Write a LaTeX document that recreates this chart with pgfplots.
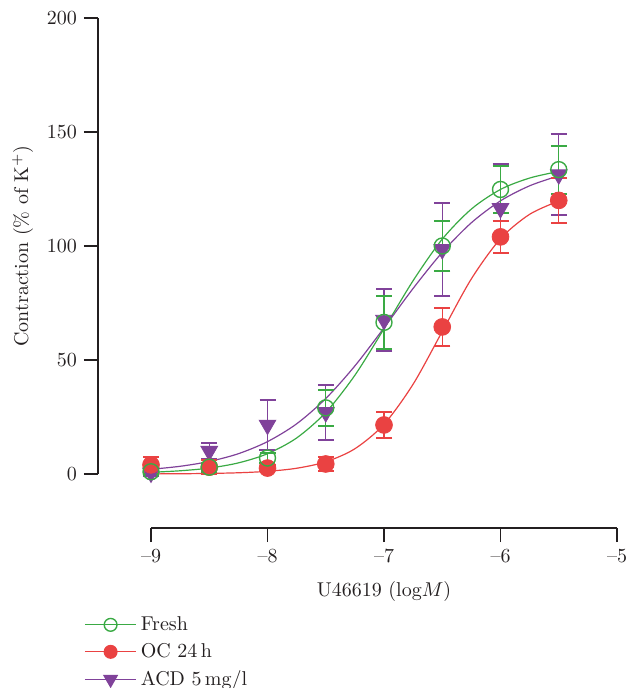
\documentclass[border=0pt]{standalone}
\usepackage{pgfplots}
\pgfplotsset{compat=1.18}
\usepackage{pgfplotstable}

\definecolor{cgreen}{RGB}{58,170,68}
\definecolor{cred}{RGB}{234,66,66}
\definecolor{cpurple}{RGB}{128,66,154}
\definecolor{ctext}{RGB}{35,31,32}

% mean and SEM
\pgfplotstableread{
x     y     e
-9    1     1
-8.5  3     2
-8    7     2
-7.5  29    8
-7    66.5  11.5
-6.5  100   11
-6    124.8 10.3
-5.5  133.5 10.5
}\fresh
\pgfplotstableread{
x     y     e
-9    4     3.5
-8.5  3     3
-8    2.6   1.5
-7.5  4.4   3
-7    21.5  5.5
-6.5  64.5  8.5
-6    104   7
-5.5  120   10
}\oc
\pgfplotstableread{
x     y     e
-9    0.5   1.5
-8.5  10    3.5
-8    21.5  11
-7.5  27    12
-7    67.5  13.5
-6.5  98.5  20.5
-6    116.5 19.5
-5.5  131.3 17.7
}\acd

% fitted curves, traced
\pgfplotstableread{
x      y
-9     0.75
-8.75  1.41
-8.5   2.6
-8.25  4.87
-8     8.9
-7.75  15.8
-7.5   27
-7.25  43.3
-7     63.7
-6.75  84.8
-6.5   103
-6.25  116.2
-6     124.8
-5.75  129.8
-5.5   132.7
}\freshfit
\pgfplotstableread{
x      y
-9     0.05
-8.75  0.11
-8.5   0.25
-8.25  0.54
-8     1.17
-7.75  2.52
-7.5   5.34
-7.25  11.07
-7     21.8
-6.75  39.4
-6.5   62.5
-6.25  85.6
-6     103.2
-5.75  113.9
-5.5   119.7
}\ocfit
\pgfplotstableread{
x      y
-9     2.06
-8.75  3.38
-8.5   5.5
-8.25  8.9
-8     14.2
-7.75  22.0
-7.5   33.1
-7.25  47.4
-7     64.1
-6.75  81.4
-6.5   97.2
-6.25  110.2
-6     119.8
-5.75  126.4
-5.5   130.8
}\acdfit

\begin{document}
\begin{tikzpicture}
\begin{axis}[
  scale only axis,
  width=233pt, height=228pt,
  xmin=-9, xmax=-5, ymin=0, ymax=200,
  axis lines=left,
  axis line style={-, line width=0.7pt, ctext},
  axis x line shift=27pt,
  axis y line shift=26.5pt,
  xtick={-9,-8,-7,-6,-5},
  xticklabels={\textendash9,\textendash8,\textendash7,\textendash6,\textendash5},
  ytick={0,50,100,150,200},
  tick align=outside,
  major tick length=7pt,
  tick style={line width=0.7pt, ctext},
  tick label style={font=\normalsize, text=ctext},
  xlabel={U46619 (log$M$)},
  ylabel={Contraction (\% of K$^+$)},
  label style={text=ctext},
  xlabel style={yshift=-2.5pt},
  clip=false,
  legend cell align=left,
  legend style={draw=none, fill=none, at={(axis description cs:0,0)},
    anchor=north west, xshift=-36.5pt, yshift=-67pt, row sep=1pt,
    text=ctext},
  legend image code/.code={
    \draw[mark repeat=2, mark phase=2]
      plot coordinates {(0cm,0cm) (0.45cm,0cm) (0.9cm,0cm)};},
  every axis plot/.append style={
    error bars/error bar style={line width=0.7pt},
    error bars/error mark options={rotate=90, mark size=4pt, line width=1pt}},
]
\addlegendimage{cgreen, line width=0.6pt, mark=o, mark size=3.2pt, mark options={line width=0.7pt}}
\addlegendentry{Fresh}
\addlegendimage{cred, line width=0.6pt, mark=*, mark size=3.2pt, mark options={fill=cred, draw=cred}}
\addlegendentry{OC 24\,h}
\addlegendimage{cpurple, line width=0.6pt, mark=triangle*, mark size=3.8pt, mark options={rotate=180, fill=cpurple}}
\addlegendentry{ACD 5\,mg/l}

\addplot[cpurple, line width=0.6pt, smooth, no marks, forget plot] table[x=x,y=y] {\acdfit};
\addplot[cgreen, line width=0.6pt, smooth, no marks, forget plot] table[x=x,y=y] {\freshfit};
\addplot[cred, line width=0.6pt, smooth, no marks, forget plot] table[x=x,y=y] {\ocfit};

\addplot[cpurple, only marks, mark=triangle*, mark size=4.8pt, forget plot,
  mark options={rotate=180, fill=cpurple, draw=cpurple},
  error bars/.cd, y dir=both, y explicit]
  table[x=x, y=y, y error=e] {\acd};
\addplot[cred, only marks, mark=*, mark size=4.2pt, forget plot,
  mark options={fill=cred, draw=cred},
  error bars/.cd, y dir=both, y explicit]
  table[x=x, y=y, y error=e] {\oc};
\addplot[cgreen, only marks, mark=o, mark size=4pt, forget plot,
  mark options={line width=0.7pt},
  error bars/.cd, y dir=both, y explicit]
  table[x=x, y=y, y error=e] {\fresh};
\end{axis}
\pgfresetboundingbox
\path[use as bounding box] (-75.5pt,-107pt) rectangle (237pt,237pt);
\end{tikzpicture}
\end{document}
